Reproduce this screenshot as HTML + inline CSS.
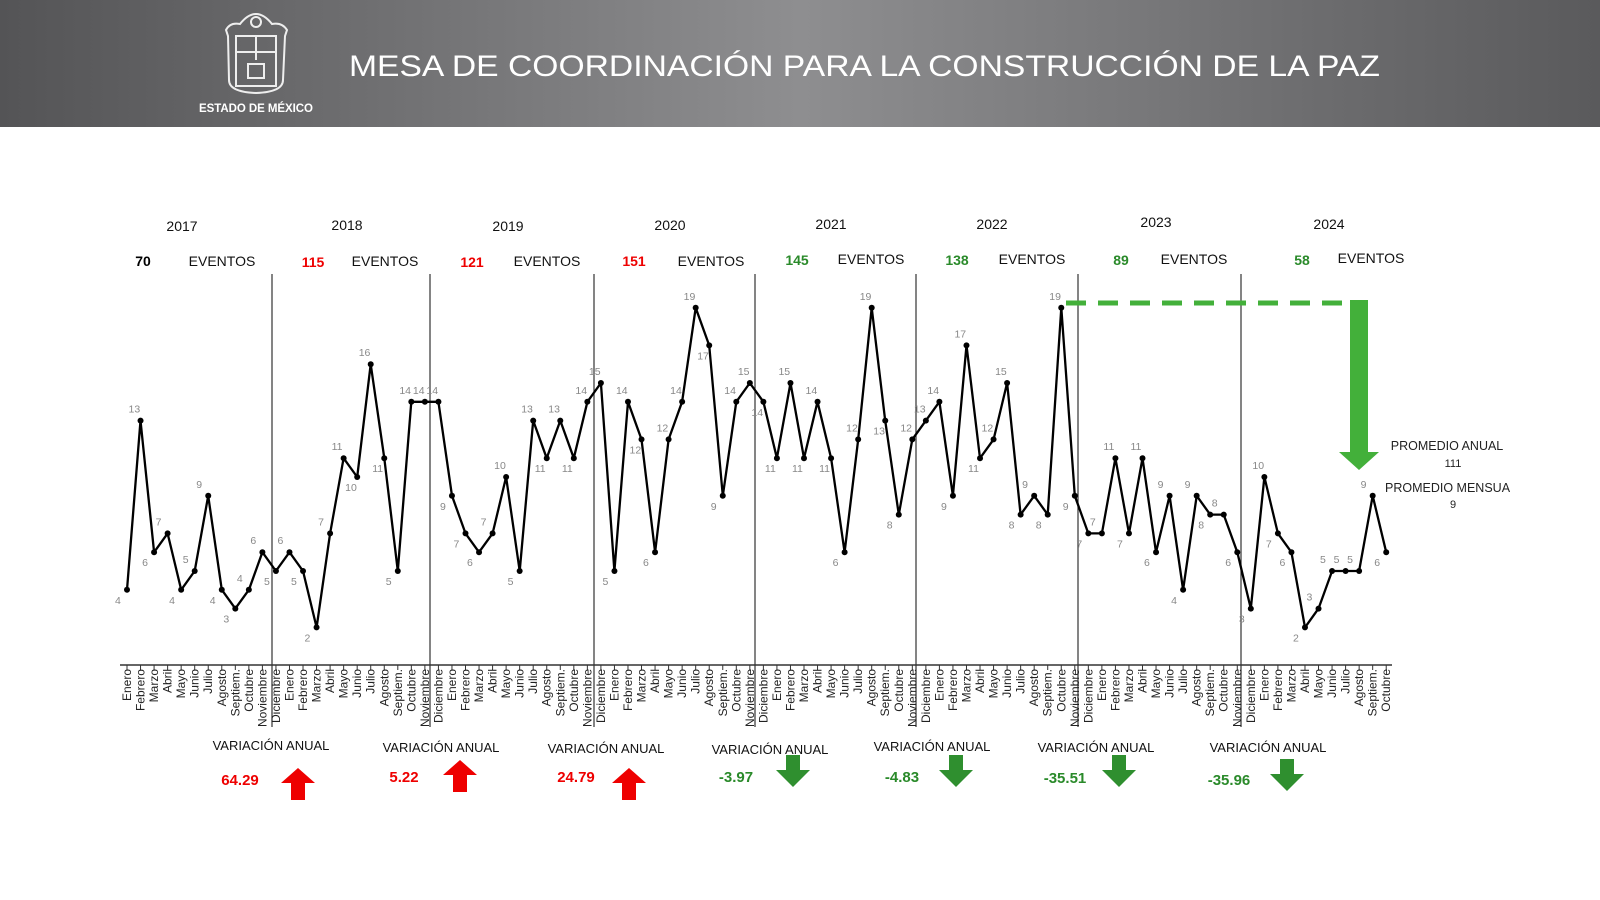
<!DOCTYPE html>
<html><head><meta charset="utf-8">
<style>
html,body{margin:0;padding:0;background:#fff;}
svg{display:block;font-family:"Liberation Sans",Arial,sans-serif;}
</style></head>
<body>
<svg id="s" width="1600" height="900" viewBox="0 0 1600 900" xmlns="http://www.w3.org/2000/svg">
<defs>
<linearGradient id="hg" x1="0" x2="1" y1="0" y2="0">
<stop offset="0" stop-color="#545456"/>
<stop offset="0.5" stop-color="#8e8e90"/>
<stop offset="1" stop-color="#5a5a5c"/>
</linearGradient>
<clipPath id="cp"><rect x="0" y="0" width="1510" height="900"/></clipPath>
</defs>
<rect x="0" y="0" width="1600" height="127" fill="url(#hg)"/>
<!-- logo -->
<g fill="none" stroke="#eee" stroke-width="2">
<path d="M226 30 Q230 22 240 24 Q248 14 256 14 Q264 14 272 24 Q282 22 287 30 L285 36 L283 80 Q283 92 256 93 Q229 92 229 80 L228 36 Z"/>
<rect x="236" y="36" width="40" height="50"/>
<line x1="256" y1="36" x2="256" y2="60"/><line x1="236" y1="52" x2="276" y2="52"/>
<rect x="248" y="64" width="16" height="14"/>
<circle cx="256" cy="22" r="5"/>
</g>
<text x="256" y="112" fill="#fff" font-size="11.5" font-weight="bold" text-anchor="middle" textLength="114">ESTADO DE MÉXICO</text>
<text x="349" y="76" fill="#fff" font-size="30" textLength="1031" lengthAdjust="spacingAndGlyphs">MESA DE COORDINACIÓN PARA LA CONSTRUCCIÓN DE LA PAZ</text>

<!-- years -->
<g font-size="14" fill="#111" text-anchor="middle">
<text x="182" y="231">2017</text><text x="347" y="230">2018</text><text x="508" y="231">2019</text><text x="670" y="230">2020</text>
<text x="831" y="229">2021</text><text x="992" y="229">2022</text><text x="1156" y="227">2023</text><text x="1329" y="229">2024</text>
</g>
<g font-size="14" text-anchor="middle" font-weight="bold">
<text x="143" y="266" fill="#000">70</text>
<text x="313" y="267" fill="#e00">115</text>
<text x="472" y="267" fill="#e00">121</text>
<text x="634" y="266" fill="#e00">151</text>
<text x="797" y="265" fill="#2a8a2a">145</text>
<text x="957" y="265" fill="#2a8a2a">138</text>
<text x="1121" y="265" fill="#2a8a2a">89</text>
<text x="1302" y="265" fill="#2a8a2a">58</text>
</g>
<g font-size="14" text-anchor="middle" fill="#111">
<text x="222" y="266">EVENTOS</text><text x="385" y="266">EVENTOS</text><text x="547" y="266">EVENTOS</text><text x="711" y="266">EVENTOS</text>
<text x="871" y="264">EVENTOS</text><text x="1032" y="264">EVENTOS</text><text x="1194" y="264">EVENTOS</text><text x="1371" y="263">EVENTOS</text>
</g>

<g id="div" stroke="#333" stroke-width="1.2"></g>
<line x1="120" y1="665" x2="1392" y2="665" stroke="#333" stroke-width="1.5"/>
<g id="ticks" stroke="#333" stroke-width="1"></g>
<g id="mon" font-size="12" fill="#222"></g>

<!-- green dashed + arrow -->
<line x1="1066" y1="303" x2="1350" y2="303" stroke="#43b03a" stroke-width="5" stroke-dasharray="20,12"/>
<rect x="1350" y="300" width="18" height="153" fill="#43b03a"/>
<polygon points="1339,452 1379,452 1359,470" fill="#43b03a"/>
<g font-size="12.5" fill="#222" text-anchor="middle" clip-path="url(#cp)">
<text x="1447" y="450">PROMEDIO ANUAL</text>
<text x="1453" y="467" font-size="11">111</text>
<text x="1451" y="492">PROMEDIO MENSUAL</text>
<text x="1453" y="508" font-size="11">9</text>
</g>

<path id="ln" fill="none" stroke="#000" stroke-width="2.3" stroke-linejoin="round"/>
<g id="dots" fill="#000"></g>
<g id="lbl" font-size="10.5" fill="#888"></g>

<!-- variacion -->
<g font-size="13" fill="#111" text-anchor="middle">
<text x="271" y="750">VARIACIÓN ANUAL</text><text x="441" y="752">VARIACIÓN ANUAL</text><text x="606" y="753">VARIACIÓN ANUAL</text>
<text x="770" y="754">VARIACIÓN ANUAL</text><text x="932" y="751">VARIACIÓN ANUAL</text><text x="1096" y="752">VARIACIÓN ANUAL</text><text x="1268" y="752">VARIACIÓN ANUAL</text>
</g>
<g font-size="15" font-weight="bold" text-anchor="middle">
<text x="240" y="785" fill="#e00">64.29</text>
<text x="404" y="782" fill="#e00">5.22</text>
<text x="576" y="782" fill="#e00">24.79</text>
<text x="736" y="782" fill="#2a8a2a">-3.97</text>
<text x="902" y="782" fill="#2a8a2a">-4.83</text>
<text x="1065" y="783" fill="#2a8a2a">-35.51</text>
<text x="1229" y="785" fill="#2a8a2a">-35.96</text>
</g>
<g id="arr"></g>
</svg>
<script>
var d=[4,13,6,7,4,5,9,4,3,4,6,5, 6,5,2,7,11,10,16,11,5,14,14,14, 9,7,6,7,10,5,13,11,13,11,14,15,
5,14,12,6,12,14,19,17,9,14,15,14, 11,15,11,14,11,6,12,19,13,8,12,13, 14,9,17,11,12,15,8,9,8,19,9,7,
7,11,7,11,6,9,4,9,8,8,6,3, 10,7,6,2,3,5,5,5,9,6];
var m=["Enero","Febrero","Marzo","Abril","Mayo","Junio","Julio","Agosto","Septiem.","Octubre","Noviembre","Diciembre"];
var NS="http://www.w3.org/2000/svg";
function el(t,a,p,txt){var e=document.createElementNS(NS,t);for(var k in a)e.setAttribute(k,a[k]);if(txt!=null)e.textContent=txt;document.getElementById(p).appendChild(e);return e;}
function X(i){return 127+i*13.54;}function Y(v){return 665-18.8*v;}
var p="";
for(var i=0;i<d.length;i++){var x=X(i),y=Y(d[i]);p+=(i?"L":"M")+x.toFixed(1)+" "+y.toFixed(1);
el("circle",{cx:x,cy:y,r:3},"dots");
el("line",{x1:x,y1:665,x2:x,y2:670},"ticks");
el("text",{x:0,y:0,"text-anchor":"end",transform:"translate("+(x+4)+",669) rotate(-90)"},"mon",m[i%12]);
var up=(i>0&&d[i]>=d[i-1]);
el("text",{x:x-12,y:up?y-8:y+14},"lbl",d[i]);
}
document.getElementById("ln").setAttribute("d",p);
[272,430,594,755,916,1078,1241].forEach(function(x){el("line",{x1:x,y1:274,x2:x,y2:727},"div");});
function upA(cx,ty){el("polygon",{points:[cx,ty,cx+17,ty+15,cx+7,ty+15,cx+7,ty+32,cx-7,ty+32,cx-7,ty+15,cx-17,ty+15].join(","),fill:"#e00"},"arr");}
function dnA(cx,ty){el("polygon",{points:[cx-7,ty,cx+7,ty,cx+7,ty+15,cx+17,ty+15,cx,ty+32,cx-17,ty+15,cx-7,ty+15].join(","),fill:"#2f8f2f"},"arr");}
upA(298,768);upA(460,760);upA(629,768);
dnA(793,755);dnA(956,755);dnA(1119,755);dnA(1287,759);
</script>
</body></html>
